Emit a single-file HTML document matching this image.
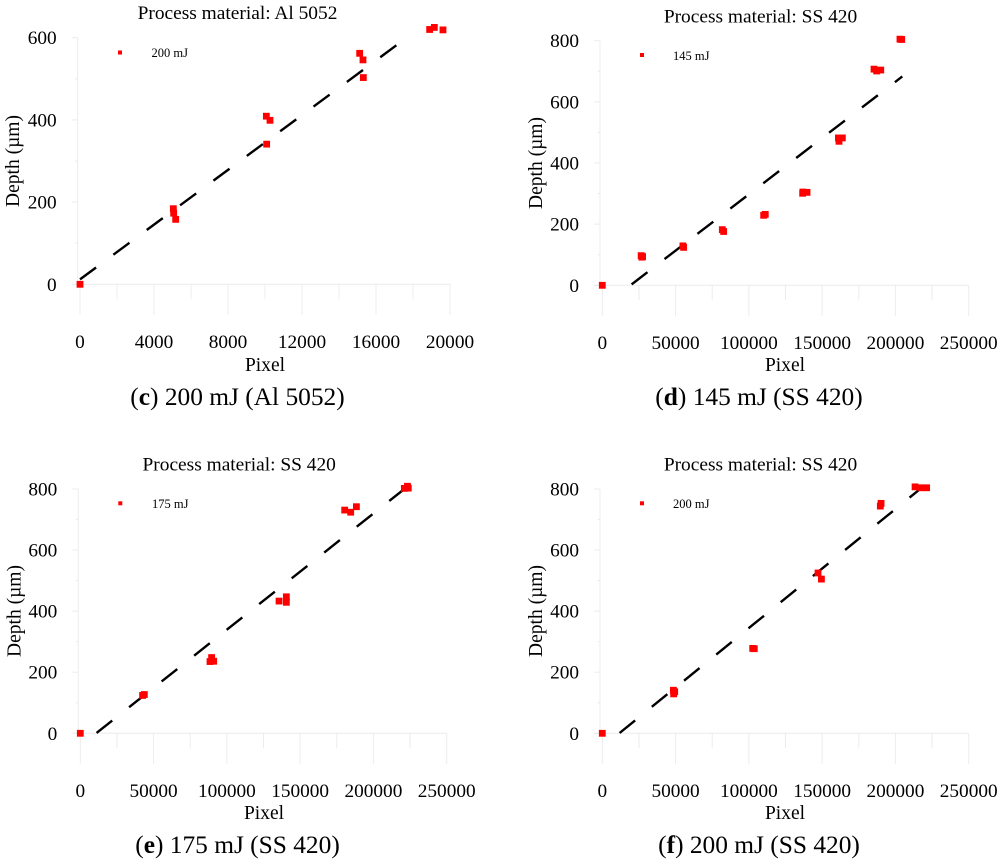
<!DOCTYPE html>
<html lang="en">
<head>
<meta charset="utf-8">
<title>Depth versus pixel count charts</title>
<style>
html,body{margin:0;padding:0;background:#fff;width:1000px;height:863px;overflow:hidden}
svg{display:block;filter:blur(0.35px)}
text{font-family:"Liberation Serif",serif;fill:#000}
.tick{font-size:19.3px}
.title{font-size:19.4px;text-anchor:middle}
.axis-title{font-size:19.5px;text-anchor:middle}
.caption{font-size:25.4px;text-anchor:middle}
.legend{font-size:12.5px}
</style>
</head>
<body>
<svg id="figure" xmlns="http://www.w3.org/2000/svg" width="1000" height="863" viewBox="0 0 1000 863">
  <g id="panel-c">
    <text class="title" x="237.5" y="19">Process material: Al 5052</text>
    <text class="axis-title" x="265" y="371">Pixel</text>
    <text class="axis-title" transform="translate(19 161) rotate(-90)">Depth (µm)</text>
    <rect x="118" y="50.5" width="4" height="4" fill="#f00"/>
    <text class="legend" x="151.5" y="57">200 mJ</text>
    <text class="caption" x="237.5" y="405">(<tspan font-weight="bold">c</tspan>) 200 mJ (Al 5052)</text>
  </g>
  <g id="panel-d">
    <text class="title" x="760.5" y="22.7">Process material: SS 420</text>
    <text class="axis-title" x="785" y="371">Pixel</text>
    <text class="axis-title" transform="translate(542 163) rotate(-90)">Depth (µm)</text>
    <rect x="640" y="53" width="4" height="4" fill="#f00"/>
    <text class="legend" x="673" y="60">145 mJ</text>
    <text class="caption" x="759" y="405">(<tspan font-weight="bold">d</tspan>) 145 mJ (SS 420)</text>
  </g>
  <g id="panel-e">
    <text class="title" x="239.2" y="470.7">Process material: SS 420</text>
    <text class="axis-title" x="264" y="819">Pixel</text>
    <text class="axis-title" transform="translate(20.7 611) rotate(-90)">Depth (µm)</text>
    <rect x="118.3" y="501.3" width="4" height="4" fill="#f00"/>
    <text class="legend" x="152" y="508">175 mJ</text>
    <text class="caption" x="237.5" y="853">(<tspan font-weight="bold">e</tspan>) 175 mJ (SS 420)</text>
  </g>
  <g id="panel-f">
    <text class="title" x="760.5" y="470.7">Process material: SS 420</text>
    <text class="axis-title" x="785" y="819">Pixel</text>
    <text class="axis-title" transform="translate(542 611) rotate(-90)">Depth (µm)</text>
    <rect x="640" y="501.3" width="4" height="4" fill="#f00"/>
    <text class="legend" x="673" y="508">200 mJ</text>
    <text class="caption" x="759" y="853">(<tspan font-weight="bold">f</tspan>) 200 mJ (SS 420)</text>
  </g>
</svg>
<script>
// Panel (c) data
const cXTicks = [0, 4000, 8000, 12000, 16000, 20000];
const cYTicks = [0, 200, 400, 600];
const cPixel = [0, 5045, 5063, 5171, 10072, 10270, 10090, 15117, 15297, 15315, 18900, 19153, 19621];
const cDepth = [0, 184, 173, 158, 409, 399, 341, 562, 546, 503, 620, 625, 619];
const cTrendPixel = [0, 17207];
const cTrendDepth = [12, 585];

// Panel (d) data
const dXTicks = [0, 50000, 100000, 150000, 200000, 250000];
const dYTicks = [0, 200, 400, 600, 800];
const dPixel = [0, 26500, 27000, 27500, 55000, 55500, 81900, 82800, 110100, 111200, 136700, 136900, 139700, 161100, 161500, 163800, 185400, 187200, 190000, 203100, 204300];
const dDepth = [0, 97, 92, 94, 129, 124, 182, 176, 229, 232, 301, 305, 304, 482, 471, 482, 707, 701, 704, 805, 804];
const dTrendPixel = [20000, 204700];
const dTrendDepth = [3, 683];

// Panel (e) data
const eXTicks = [0, 50000, 100000, 150000, 200000, 250000];
const eYTicks = [0, 200, 400, 600, 800];
const ePixel = [0, 42500, 43700, 88500, 89600, 91000, 135600, 140600, 140600, 180400, 184500, 188400, 221100, 223200, 223800];
const eDepth = [0, 124, 127, 235, 248, 236, 433, 447, 429, 731, 724, 742, 802, 809, 803];
const eTrendPixel = [11100, 221100];
const eTrendDepth = [1, 800];

// Panel (f) data
const fXTicks = [0, 50000, 100000, 150000, 200000, 250000];
const fYTicks = [0, 200, 400, 600, 800];
const fPixel = [0, 48500, 49400, 48700, 102600, 103700, 147200, 149500, 190200, 189700, 213400, 217500, 221300];
const fDepth = [0, 141, 136, 129, 278, 277, 525, 505, 753, 744, 807, 804, 804];
const fTrendPixel = [11800, 216100];
const fTrendDepth = [1, 797];

const NS = 'http://www.w3.org/2000/svg';
const AXIS_COLOR = '#ececec';
const MARKER = 6.8;

function makeLine(parent, x1, y1, x2, y2, name) {
  const l = document.createElementNS(NS, 'line');
  l.setAttribute('x1', x1);
  l.setAttribute('y1', y1);
  l.setAttribute('x2', x2);
  l.setAttribute('y2', y2);
  l.setAttribute('stroke', AXIS_COLOR);
  l.setAttribute('stroke-width', '1');
  
  
  parent.appendChild(l);
}

function makeTickLabel(parent, x, y, anchor, value, name) {
  const t = document.createElementNS(NS, 'text');
  t.setAttribute('class', 'tick');
  t.setAttribute('x', x);
  t.setAttribute('y', y);
  t.setAttribute('text-anchor', anchor);
  
  
  t.textContent = value;
  parent.appendChild(t);
}

function drawPanel(id, frame, xTicks, yTicks, pixel, depth, trendPixel, trendDepth) {
  const root = document.getElementById(id);
  const xMax = xTicks[xTicks.length - 1];
  const yMax = yTicks[yTicks.length - 1];
  const sx = function (v) { return frame.x0 + (v / xMax) * (frame.x1 - frame.x0); };
  const sy = function (v) { return frame.y0 + (v / yMax) * (frame.yTop - frame.y0); };

  // y axis with major and minor ticks
  makeLine(root, frame.axisX, sy(yMax), frame.axisX, sy(0), 'y-axis-line');
  makeLine(root, frame.axisX - 6, sy(0), sx(xMax), sy(0), 'x-axis-line');
  yTicks.forEach(function (v, i) {
    makeLine(root, frame.axisX - 6, sy(v), frame.axisX, sy(v), 'y-major-tick');
    makeTickLabel(root, frame.axisX - 21, sy(v) + 6.5, 'end', String(v), 'y-tick-label');
    if (i < yTicks.length - 1) {
      const mid = (v + yTicks[i + 1]) / 2;
      makeLine(root, frame.axisX - 2.5, sy(mid), frame.axisX, sy(mid), 'y-minor-tick');
    }
  });

  // x ticks hang below the zero line
  xTicks.forEach(function (v, i) {
    makeLine(root, sx(v), sy(0), sx(v), sy(0) + 30.5, 'x-major-tick');
    makeTickLabel(root, sx(v), sy(0) + 63.5, 'middle', String(v), 'x-tick-label');
    if (i < xTicks.length - 1) {
      const mid = (v + xTicks[i + 1]) / 2;
      makeLine(root, sx(mid), sy(0), sx(mid), sy(0) + 15, 'x-minor-tick');
    }
  });

  // dashed trend line
  const trend = document.createElementNS(NS, 'line');
  trend.setAttribute('x1', sx(trendPixel[0]));
  trend.setAttribute('y1', sy(trendDepth[0]));
  trend.setAttribute('x2', sx(trendPixel[1]));
  trend.setAttribute('y2', sy(trendDepth[1]));
  trend.setAttribute('stroke', '#000');
  trend.setAttribute('stroke-width', '2.4');
  trend.setAttribute('stroke-dasharray', '20 21.5');
  
  
  root.appendChild(trend);

  // measured points
  pixel.forEach(function (v, i) {
    const p = document.createElementNS(NS, 'rect');
    p.setAttribute('x', sx(v) - MARKER / 2);
    p.setAttribute('y', sy(depth[i]) - MARKER / 2);
    p.setAttribute('width', MARKER);
    p.setAttribute('height', MARKER);
    p.setAttribute('fill', '#f00');
    
    
    root.appendChild(p);
  });
}

drawPanel('panel-c', {x0: 80, x1: 450, y0: 284.3, yTop: 37.7, axisX: 77.7}, cXTicks, cYTicks, cPixel, cDepth, cTrendPixel, cTrendDepth);
drawPanel('panel-d', {x0: 602.3, x1: 968.7, y0: 285.3, yTop: 40.7, axisX: 600}, dXTicks, dYTicks, dPixel, dDepth, dTrendPixel, dTrendDepth);
drawPanel('panel-e', {x0: 80.3, x1: 446.7, y0: 733.3, yTop: 489, axisX: 78.3}, eXTicks, eYTicks, ePixel, eDepth, eTrendPixel, eTrendDepth);
drawPanel('panel-f', {x0: 602.3, x1: 968.7, y0: 733.3, yTop: 489, axisX: 600}, fXTicks, fYTicks, fPixel, fDepth, fTrendPixel, fTrendDepth);
</script>
</body>
</html>
